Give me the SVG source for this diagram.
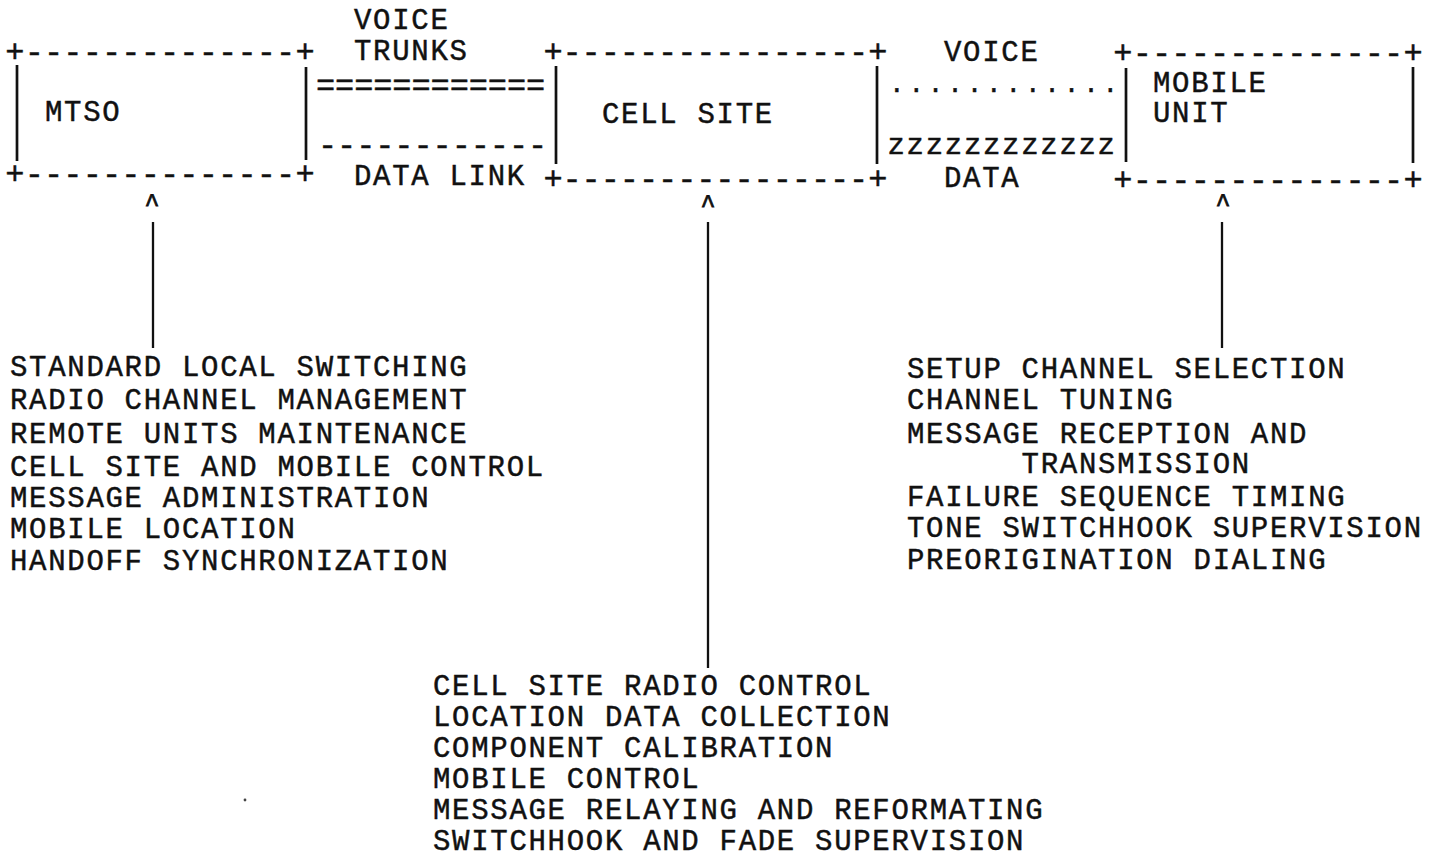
<svg xmlns="http://www.w3.org/2000/svg" width="1435" height="859" viewBox="0 0 1435 859">
  <style>
    text { font-family: "Liberation Mono", "DejaVu Sans Mono", monospace; font-size: 29px; fill: #111; stroke: #111; stroke-width: 0.45; letter-spacing: 1.7px; }
    text.rule { letter-spacing: 0; font-size: 32px; }
    text.dots { letter-spacing: 0; font-size: 26px; }
    text.caret { letter-spacing: 0; text-anchor: middle; font-size: 25px; stroke-width: 0.8; }
    .side { stroke: #111; stroke-width: 2.7; fill: none; }
    .lead { stroke: #111; stroke-width: 2.3; fill: none; }
  </style>
  <rect width="1435" height="859" fill="#fff"/>

  <!-- MTSO box -->
  <g id="mtso">
    <text class="rule" x="5.3" y="62" textLength="309.3" lengthAdjust="spacing">+--------------+</text>
    <text class="rule" x="5.3" y="184" textLength="309.3" lengthAdjust="spacing">+--------------+</text>
    <line class="side" x1="17" y1="65" x2="17" y2="161"/>
    <line class="side" x1="306" y1="67" x2="306" y2="160"/>
    <text x="45" y="121">MTSO</text>
  </g>

  <!-- Cell site box -->
  <g id="cell-site">
    <text class="rule" x="543.4" y="62" textLength="344" lengthAdjust="spacing">+----------------+</text>
    <text class="rule" x="543.4" y="189" textLength="344" lengthAdjust="spacing">+----------------+</text>
    <line class="side" x1="556" y1="66" x2="556" y2="164"/>
    <line class="side" x1="877" y1="66" x2="877" y2="164"/>
    <text x="602" y="123">CELL SITE</text>
  </g>

  <!-- Mobile unit box -->
  <g id="mobile-unit">
    <text class="rule" x="1113.3" y="63" textLength="309.3" lengthAdjust="spacing">+--------------+</text>
    <text class="rule" x="1113.3" y="190" textLength="309.3" lengthAdjust="spacing">+--------------+</text>
    <line class="side" x1="1126" y1="68" x2="1126" y2="162"/>
    <line class="side" x1="1413" y1="67" x2="1413" y2="163"/>
    <text x="1153" y="92">MOBILE</text>
    <text x="1153" y="122">UNIT</text>
  </g>

  <!-- Connectors: links between the boxes and leaders to the function lists -->
  <g id="connectors">
    <!-- MTSO to cell site: voice trunks and data link -->
    <text x="354" y="29">VOICE</text>
    <text x="354" y="60">TRUNKS</text>
    <text class="rule" x="316" y="95" textLength="229.2" lengthAdjust="spacing">============</text>
    <text class="rule" x="318" y="155" textLength="229.2" lengthAdjust="spacing">------------</text>
    <text x="354" y="185">DATA LINK</text>

    <!-- Cell site to mobile unit: voice and data radio channels -->
    <text x="944" y="61">VOICE</text>
    <text class="dots" x="889" y="92" textLength="229.2" lengthAdjust="spacing">............</text>
    <text x="887.5" y="154" textLength="229.2" lengthAdjust="spacing">zzzzzzzzzzzz</text>
    <text x="944" y="187">DATA</text>

    <!-- Leaders from each box down to its function list -->
    <text class="caret" x="152" y="212">^</text>
    <text class="caret" x="708" y="213">^</text>
    <text class="caret" x="1223" y="212">^</text>
    <line class="lead" x1="153" y1="222" x2="153" y2="348"/>
    <line class="lead" x1="708" y1="222" x2="708" y2="668"/>
    <line class="lead" x1="1222" y1="222" x2="1222" y2="348"/>
  </g>

  <!-- MTSO functions -->
  <g id="mtso-functions">
    <text x="10" y="376">STANDARD LOCAL SWITCHING</text>
    <text x="10" y="409">RADIO CHANNEL MANAGEMENT</text>
    <text x="10" y="443">REMOTE UNITS MAINTENANCE</text>
    <text x="10" y="476">CELL SITE AND MOBILE CONTROL</text>
    <text x="10" y="507">MESSAGE ADMINISTRATION</text>
    <text x="10" y="538">MOBILE LOCATION</text>
    <text x="10" y="570">HANDOFF SYNCHRONIZATION</text>
  </g>

  <!-- Mobile unit functions -->
  <g id="mobile-functions">
    <text x="907" y="378">SETUP CHANNEL SELECTION</text>
    <text x="907" y="409">CHANNEL TUNING</text>
    <text x="907" y="443">MESSAGE RECEPTION AND</text>
    <text x="907" y="473" xml:space="preserve">      TRANSMISSION</text>
    <text x="907" y="506">FAILURE SEQUENCE TIMING</text>
    <text x="907" y="537">TONE SWITCHHOOK SUPERVISION</text>
    <text x="907" y="569">PREORIGINATION DIALING</text>
  </g>

  <!-- Cell site functions -->
  <g id="cell-site-functions">
    <text x="433" y="695">CELL SITE RADIO CONTROL</text>
    <text x="433" y="726">LOCATION DATA COLLECTION</text>
    <text x="433" y="757">COMPONENT CALIBRATION</text>
    <text x="433" y="788">MOBILE CONTROL</text>
    <text x="433" y="819">MESSAGE RELAYING AND REFORMATING</text>
    <text x="433" y="850">SWITCHHOOK AND FADE SUPERVISION</text>
  </g>

  <!-- stray mark -->
  <circle cx="245" cy="800" r="1.4" fill="#444"/>
</svg>
